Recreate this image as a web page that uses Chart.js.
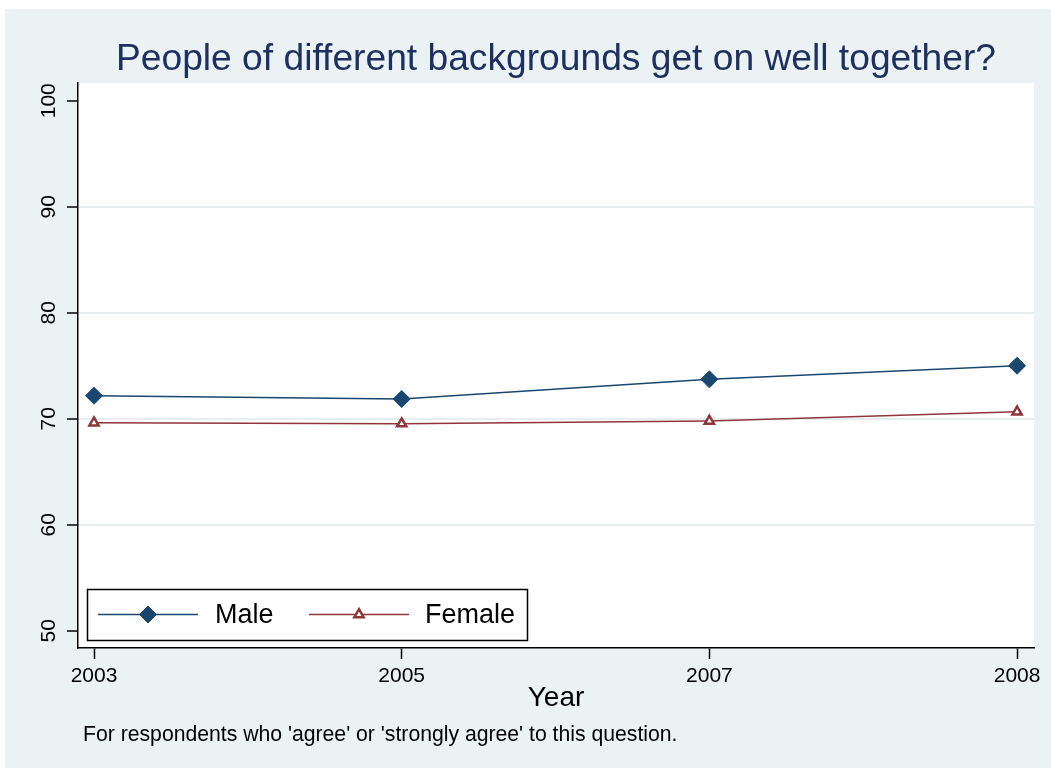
<!DOCTYPE html>
<html><head><meta charset="utf-8">
<script src="https://cdn.jsdelivr.net/npm/chart.js@4.4.0/dist/chart.umd.min.js"></script>
<style>html,body{margin:0;padding:0;background:#fff;}canvas{display:block}</style>
</head><body>
<canvas id="c" width="1051" height="772"></canvas>
<script>
const years = ['2003', '2005', '2007', '2008'];
const male = [72.17, 71.86, 73.72, 75.0];
const female = [69.62, 69.53, 69.78, 70.66];
const yTicks = [50, 60, 70, 80, 90, 100];
const seriesNames = ['Male', 'Female'];
const titleText = 'People of different backgrounds get on well together?';
const xTitleText = 'Year';
const noteText = "For respondents who 'agree' or 'strongly agree' to this question.";

const FONT = "'Liberation Sans', Arial, Helvetica, sans-serif";
const NAVY = '#1a476f';
const MAROON = '#90353b';
const BG = '#eaf2f3';

const bgPlugin = {
  id: 'bgPlugin',
  beforeDraw(chart) {
    const ctx = chart.ctx, a = chart.chartArea;
    ctx.save();
    ctx.fillStyle = '#fff';
    ctx.fillRect(0, 0, chart.width, chart.height);
    ctx.fillStyle = BG;
    ctx.fillRect(5, 9, chart.width - 5, 759);
    ctx.fillStyle = '#fff';
    ctx.fillRect(a.left, a.top, a.right - a.left, a.bottom - a.top);
    ctx.restore();
  }
};

const legendPlugin = {
  id: 'legendPlugin',
  afterDatasetsDraw(chart) {
    const ctx = chart.ctx;
    ctx.save();
    ctx.fillStyle = '#fff';
    ctx.fillRect(87, 589, 441, 51);
    ctx.strokeStyle = '#000';
    ctx.lineWidth = 1.5;
    ctx.strokeRect(87.5, 589.5, 440, 51);
    const ly = 614.5;
    const items = [
      {x0: 98, x1: 198, color: NAVY, fill: NAVY, style: 'rectRot', r: 8.5, bw: 1, tx: 215},
      {x0: 309, x1: 409, color: MAROON, fill: '#fff', style: 'triangle', r: 5.3, bw: 2.5, tx: 425}
    ];
    items.forEach((it, i) => {
      ctx.strokeStyle = it.color;
      ctx.lineWidth = 1.5;
      ctx.beginPath();
      ctx.moveTo(it.x0, ly);
      ctx.lineTo(it.x1, ly);
      ctx.stroke();
      ctx.fillStyle = it.fill;
      ctx.strokeStyle = it.color;
      ctx.lineWidth = it.bw;
      Chart.helpers.drawPoint(ctx, {pointStyle: it.style, radius: it.r, rotation: 0, borderWidth: it.bw}, (it.x0 + it.x1) / 2, ly);
      ctx.fillStyle = '#000';
      ctx.font = '27px ' + FONT;
      ctx.textBaseline = 'middle';
      ctx.textAlign = 'left';
      ctx.fillText(seriesNames[i], it.tx, ly + 1);
    });
    ctx.restore();
  },
  afterDraw(chart) {
    const ctx = chart.ctx;
    ctx.save();
    ctx.fillStyle = '#000';
    ctx.font = '21.2px ' + FONT;
    ctx.textBaseline = 'middle';
    ctx.textAlign = 'left';
    ctx.fillText(noteText, 83, 735);
    ctx.restore();
  }
};

new Chart(document.getElementById('c'), {
  type: 'line',
  data: {
    datasets: [
      {
        label: seriesNames[0],
        data: male.map((v, i) => ({x: i, y: v})),
        borderColor: NAVY,
        backgroundColor: NAVY,
        borderWidth: 1.5,
        pointStyle: 'rectRot',
        pointRadius: 8.5,
        pointBorderWidth: 1,
        pointBackgroundColor: NAVY,
        pointBorderColor: NAVY,
        tension: 0
      },
      {
        label: seriesNames[1],
        data: female.map((v, i) => ({x: i, y: v})),
        borderColor: MAROON,
        backgroundColor: '#fff',
        borderWidth: 1.5,
        pointStyle: 'triangle',
        pointRadius: 5.3,
        pointBorderWidth: 2.5,
        pointBackgroundColor: '#fff',
        pointBorderColor: MAROON,
        tension: 0
      }
    ]
  },
  options: {
    responsive: false,
    animation: false,
    layout: {padding: {top: 0, left: 0, right: 17, bottom: 49}},
    plugins: {
      legend: {display: false},
      tooltip: {enabled: false},
      title: {
        display: true,
        text: titleText,
        fullSize: false,
        color: '#1f3060',
        font: {family: FONT, size: 37.2, weight: 'normal'},
        padding: {top: 37.2, bottom: 1.2}
      }
    },
    scales: {
      x: {
        type: 'linear',
        min: -0.052,
        max: 3.055,
        afterBuildTicks: (s) => { s.ticks = years.map((_, i) => ({value: i})); },
        afterFit: (s) => { s.height = 75; },
        ticks: {
          callback: (v) => years[v],
          autoSkip: false,
          maxRotation: 0,
          minRotation: 0,
          padding: 5,
          color: '#000',
          font: {family: FONT, size: 21}
        },
        grid: {
          display: true,
          drawOnChartArea: false,
          drawTicks: true,
          tickLength: 11,
          tickColor: '#000',
          tickWidth: 1.5,
          color: 'rgba(0,0,0,0)'
        },
        border: {display: true, color: '#000', width: 1.5},
        title: {
          display: true,
          text: xTitleText,
          color: '#000',
          font: {family: FONT, size: 28},
          padding: {top: 0, bottom: 8}
        }
      },
      y: {
        type: 'linear',
        min: 48.37,
        max: 101.67,
        afterBuildTicks: (s) => { s.ticks = yTicks.map(v => ({value: v})); },
        afterFit: (s) => { s.width = 78; },
        ticks: {
          minRotation: 90,
          maxRotation: 90,
          crossAlign: 'center',
          padding: 0,
          color: '#000',
          font: {family: FONT, size: 21}
        },
        grid: {
          display: true,
          drawTicks: true,
          tickLength: 11,
          tickColor: '#000',
          tickWidth: 1.5,
          lineWidth: 2,
          color: (c) => (c.tick && c.tick.value > 50 && c.tick.value < 100) ? '#e6eef0' : 'rgba(0,0,0,0)'
        },
        border: {display: true, color: '#000', width: 1.5}
      }
    }
  },
  plugins: [bgPlugin, legendPlugin]
});
</script>
</body></html>
